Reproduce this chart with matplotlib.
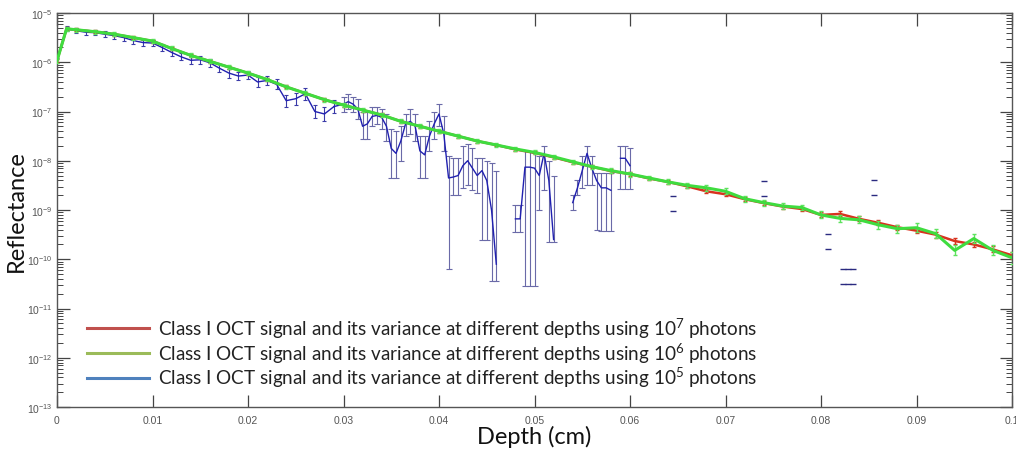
import numpy as np
import matplotlib.pyplot as plt
from matplotlib.lines import Line2D
from matplotlib.ticker import FuncFormatter, LogLocator, NullFormatter

plt.rcParams['mathtext.fontset'] = 'custom'
plt.rcParams['mathtext.rm'] = 'Lato'
plt.rcParams['mathtext.sf'] = 'Liberation Sans'
plt.rcParams['mathtext.default'] = 'regular'

# depth grid for the 10^7 and 10^6 photon runs (cm)
depth = [0.0, 0.001, 0.002, 0.004, 0.006, 0.008, 0.010, 0.012, 0.014, 0.016, 0.018,
         0.020, 0.022, 0.024, 0.026, 0.028, 0.030, 0.032, 0.034, 0.036, 0.038,
         0.040, 0.042, 0.044, 0.046, 0.048, 0.050, 0.052, 0.054, 0.056, 0.058,
         0.060, 0.062, 0.064, 0.066, 0.068, 0.070, 0.072, 0.074, 0.076, 0.078,
         0.080, 0.082, 0.084, 0.086, 0.088, 0.090, 0.092, 0.094, 0.096, 0.098, 0.100]

# log10(reflectance)
green_log = [-5.97, -5.32, -5.34, -5.38, -5.43, -5.50, -5.57, -5.72, -5.86, -5.98, -6.10,
             -6.22, -6.35, -6.50, -6.63, -6.76, -6.87, -6.97, -7.07, -7.20, -7.30,
             -7.40, -7.50, -7.60, -7.68, -7.76, -7.83, -7.92, -8.02, -8.12, -8.20,
             -8.27, -8.35, -8.43, -8.50, -8.55, -8.62, -8.77, -8.85, -8.92, -8.95,
             -9.10, -9.17, -9.20, -9.30, -9.38, -9.36, -9.48, -9.82, -9.58, -9.82, -9.97]
green_err = [0.04, 0.04, 0.04, 0.04, 0.04, 0.04, 0.04, 0.04, 0.04, 0.04, 0.04,
             0.04, 0.04, 0.04, 0.04, 0.04, 0.04, 0.04, 0.04, 0.04, 0.04,
             0.04, 0.04, 0.04, 0.04, 0.04, 0.04, 0.04, 0.04, 0.04, 0.05,
             0.05, 0.05, 0.05, 0.05, 0.06, 0.06, 0.06, 0.06, 0.06, 0.06,
             0.07, 0.07, 0.07, 0.08, 0.08, 0.09, 0.09, 0.10, 0.10, 0.10, 0.12]

red_log = [-5.97, -5.32, -5.34, -5.38, -5.43, -5.50, -5.57, -5.72, -5.86, -5.98, -6.10,
           -6.22, -6.35, -6.50, -6.63, -6.76, -6.87, -6.97, -7.07, -7.20, -7.30,
           -7.40, -7.50, -7.60, -7.68, -7.77, -7.84, -7.93, -8.03, -8.12, -8.21,
           -8.27, -8.36, -8.43, -8.52, -8.62, -8.68, -8.78, -8.86, -8.93, -8.98,
           -9.10, -9.08, -9.18, -9.26, -9.35, -9.42, -9.50, -9.63, -9.70, -9.80, -9.92]
red_err = [0.03, 0.03, 0.03, 0.03, 0.03, 0.03, 0.03, 0.03, 0.03, 0.03, 0.03,
           0.03, 0.03, 0.03, 0.03, 0.03, 0.03, 0.03, 0.03, 0.03, 0.03,
           0.03, 0.03, 0.03, 0.03, 0.03, 0.03, 0.03, 0.03, 0.03, 0.04,
           0.04, 0.04, 0.04, 0.04, 0.04, 0.04, 0.04, 0.04, 0.04, 0.04,
           0.05, 0.05, 0.05, 0.05, 0.05, 0.05, 0.06, 0.06, 0.06, 0.06, 0.07]

# 10^5 photons, shallow part (0 - 0.029 cm, step 0.001)
blue_depth_a = [0.000, 0.001, 0.002, 0.003, 0.004, 0.005, 0.006, 0.007, 0.008, 0.009,
                0.010, 0.011, 0.012, 0.013, 0.014, 0.015, 0.016, 0.017, 0.018, 0.019,
                0.020, 0.021, 0.022, 0.023, 0.024, 0.025, 0.026, 0.027, 0.028, 0.029]
blue_log_a = [-5.97, -5.32, -5.36, -5.39, -5.40, -5.43, -5.46, -5.50, -5.56, -5.60,
              -5.61, -5.70, -5.80, -5.89, -5.96, -5.95, -6.01, -6.12, -6.22, -6.28,
              -6.26, -6.40, -6.37, -6.45, -6.78, -6.74, -6.64, -7.00, -7.05, -6.90]
blue_err_a = [0.05, 0.05, 0.05, 0.05, 0.05, 0.06, 0.06, 0.06, 0.06, 0.06,
              0.07, 0.07, 0.07, 0.07, 0.08, 0.08, 0.08, 0.08, 0.09, 0.09,
              0.09, 0.10, 0.10, 0.10, 0.12, 0.12, 0.12, 0.14, 0.14, 0.14]

# 10^5 photons, deeper part (0.030 - 0.060 cm, step 0.0005); nan = no signal
blue_depth_b = [0.0300, 0.0305, 0.0310, 0.0315, 0.0320, 0.0325, 0.0330, 0.0335, 0.0340, 0.0345,
                0.0350, 0.0355, 0.0360, 0.0365, 0.0370, 0.0375, 0.0380, 0.0385, 0.0390, 0.0395,
                0.0400, 0.0405, 0.0410, 0.0415, 0.0420, 0.0425, 0.0430, 0.0435, 0.0440, 0.0445,
                0.0450, 0.0455, 0.0460, 0.0465, 0.0470, 0.0475, 0.0480, 0.0485, 0.0490, 0.0495,
                0.0500, 0.0505, 0.0510, 0.0515, 0.0520, 0.0525, 0.0530, 0.0535, 0.0540, 0.0545,
                0.0550, 0.0555, 0.0560, 0.0565, 0.0570, 0.0575, 0.0580, 0.0585, 0.0590, 0.0595,
                0.0600]
nan = np.nan
blue_log_b = [-6.85, -6.80, -6.85, -6.95, -7.30, -7.25, -7.10, -7.08, -7.12, -7.30,
              -7.75, -7.85, -7.60, -7.25, -7.20, -7.30, -7.80, -7.88, -7.50, -7.25,
              -7.05, -7.45, -8.35, -8.33, -8.30, -8.10, -8.00, -8.15, -8.30, -8.20,
              -8.40, -9.00, -10.10, nan, nan, nan, -9.18, -9.18, -8.13, -8.13,
              -8.15, -8.30, -7.85, -8.40, -9.60, nan, nan, nan, -8.85, -8.55,
              -8.20, -7.85, -8.15, -8.40, -8.55, -8.55, -8.60, nan, -7.95, -7.95,
              -8.10]
blue_hi_b = [-6.70, -6.65, -6.70, -6.75, -7.00, -7.00, -6.90, -6.90, -6.95, -7.05,
             -7.35, -7.40, -7.30, -7.05, -6.95, -7.05, -7.50, -7.50, -7.20, -7.00,
             -6.85, -7.10, -7.90, -7.95, -7.95, -7.70, -7.65, -7.75, -7.95, -7.95,
             -8.00, -8.05, -8.20, nan, nan, nan, -8.90, -8.90, -7.80, -7.80,
             -7.85, -7.90, -7.70, -8.00, -8.30, nan, nan, nan, -8.70, -8.40,
             -7.90, -7.70, -7.90, -8.25, -8.25, -8.25, -8.25, nan, -7.70, -7.70,
             -7.75]
blue_lo_b = [-7.00, -6.95, -7.00, -7.15, -7.55, -7.55, -7.30, -7.25, -7.35, -7.60,
             -8.35, -8.35, -8.00, -7.50, -7.45, -7.60, -8.35, -8.35, -7.80, -7.55,
             -7.30, -7.80, -10.20, -8.70, -8.70, -8.55, -8.50, -8.60, -8.65, -9.60,
             -9.60, -10.45, -10.45, nan, nan, nan, -9.45, -9.45, -10.55, -10.55,
             -10.55, -9.00, -8.60, -9.65, -9.65, nan, nan, nan, -9.00, -8.70,
             -8.55, -8.50, -8.50, -9.40, -9.43, -9.43, -9.43, nan, -8.57, -8.57,
             -8.57]

# isolated 10^5 points past 0.06 cm where only the caps show
blue_cap_depth = [0.0645, 0.0740, 0.0807, 0.0823, 0.0828, 0.0833, 0.0855]
blue_cap_hi = [-8.72, -8.41, -9.49, -10.20, -10.20, -10.20, -8.39]
blue_cap_lo = [-9.02, -8.72, -9.79, -10.50, -10.50, -10.50, -8.70]

labels = [r"Class I OCT signal and its variance at different depths using 10$^{7}$ photons",
          r"Class I OCT signal and its variance at different depths using 10$^{6}$ photons",
          r"Class I OCT signal and its variance at different depths using 10$^{5}$ photons"]


def err_from_log(mid, lo, hi):
    mid = 10.0 ** np.asarray(mid, dtype=float)
    lo = 10.0 ** np.asarray(lo, dtype=float)
    hi = 10.0 ** np.asarray(hi, dtype=float)
    return mid, np.vstack([mid - lo, hi - mid])


fig = plt.figure(figsize=(10.16, 4.52), dpi=100)
ax = fig.add_axes([57 / 1016, 1 - 408 / 452, 955 / 1016, 394 / 452])

# blue (10^5 photons)
g = np.array(blue_log_a)
e = np.array(blue_err_a)
y, yerr = err_from_log(g, g - e, g + e)
ax.errorbar(blue_depth_a, y, yerr=yerr, color='#2020b0', ecolor='#3a3aa8',
            lw=1.0, elinewidth=0.8, capsize=1.5, capthick=0.8, zorder=1)
ax.plot(blue_depth_a[-1:] + blue_depth_b[:1], 10.0 ** np.array(blue_log_a[-1:] + blue_log_b[:1]),
        color='#2020b0', lw=1.0, zorder=1)
y, yerr = err_from_log(blue_log_b, blue_lo_b, blue_hi_b)
ax.errorbar(blue_depth_b, y, yerr=yerr, color='#2020b0', ecolor='#6a6aa8',
            lw=1.0, elinewidth=0.8, capsize=2, capthick=0.8, zorder=1)
for d, lo, hi in zip(blue_cap_depth, blue_cap_lo, blue_cap_hi):
    ax.plot([d, d], [10.0 ** lo, 10.0 ** hi], ls='none', marker='_', ms=5,
            mew=1.0, color='#2a2a80', zorder=1)

# red (10^7 photons)
r = np.array(red_log)
e = np.array(red_err)
y, yerr = err_from_log(r, r - e, r + e)
ax.errorbar(depth, y, yerr=yerr, color='#d8321e', ecolor='#d8321e',
            lw=1.8, elinewidth=1.0, capsize=1.5, zorder=2)

# green (10^6 photons)
g = np.array(green_log)
e = np.array(green_err)
y, yerr = err_from_log(g, g - e, g + e)
ax.errorbar(depth, y, yerr=yerr, color='#3fdc3f', ecolor='#5ee35e',
            lw=2.2, elinewidth=1.0, capsize=1.5, zorder=3)

ax.set_yscale('log')
ax.set_xlim(0, 0.1)
ax.set_ylim(1e-13, 1e-5)
ax.set_xticks([0, 0.01, 0.02, 0.03, 0.04, 0.05, 0.06, 0.07, 0.08, 0.09, 0.1])
ax.xaxis.set_major_formatter(FuncFormatter(lambda v, p: '%g' % v))
ax.yaxis.set_major_locator(LogLocator(base=10, numticks=20))
ax.yaxis.set_minor_locator(LogLocator(base=10, subs=np.arange(2, 10), numticks=20))
ax.yaxis.set_minor_formatter(NullFormatter())
ax.yaxis.set_major_formatter(
    FuncFormatter(lambda v, p: r'$\mathsf{10^{%d}}$' % round(np.log10(v))))

ax.tick_params(which='both', direction='in', top=True, right=True, colors='#444444',
               labelcolor='#555555', labelsize=7.5)
ax.tick_params(which='major', length=9, width=0.9)
ax.tick_params(which='minor', length=4, width=0.7)
ax.tick_params(axis='x', pad=6)
ax.tick_params(axis='y', pad=3)
for lab in ax.get_xticklabels():
    lab.set_family('Liberation Sans')
for s in ax.spines.values():
    s.set_color('#555555')
    s.set_linewidth(1.0)

ax.set_xlabel('Depth (cm)', family='Lato', fontsize=17, color='#111111', labelpad=0)
ax.set_ylabel('Reflectance', family='Lato', fontsize=17, color='#111111')
ax.yaxis.set_label_coords(-0.032, 0.5)

handles = [Line2D([], [], color='#c0504d', lw=2.2),
           Line2D([], [], color='#9bbb59', lw=2.2),
           Line2D([], [], color='#4f81bd', lw=2.2)]
ax.legend(handles, labels, loc='upper left', bbox_to_anchor=(30 / 955, 1 - 303 / 394),
          frameon=False, prop={'family': 'Lato', 'size': 13.6}, handlelength=3.3,
          handletextpad=0.45, labelspacing=0.02, borderpad=0, borderaxespad=0,
          labelcolor='#222222')

fig.savefig('out.png', dpi=100)
